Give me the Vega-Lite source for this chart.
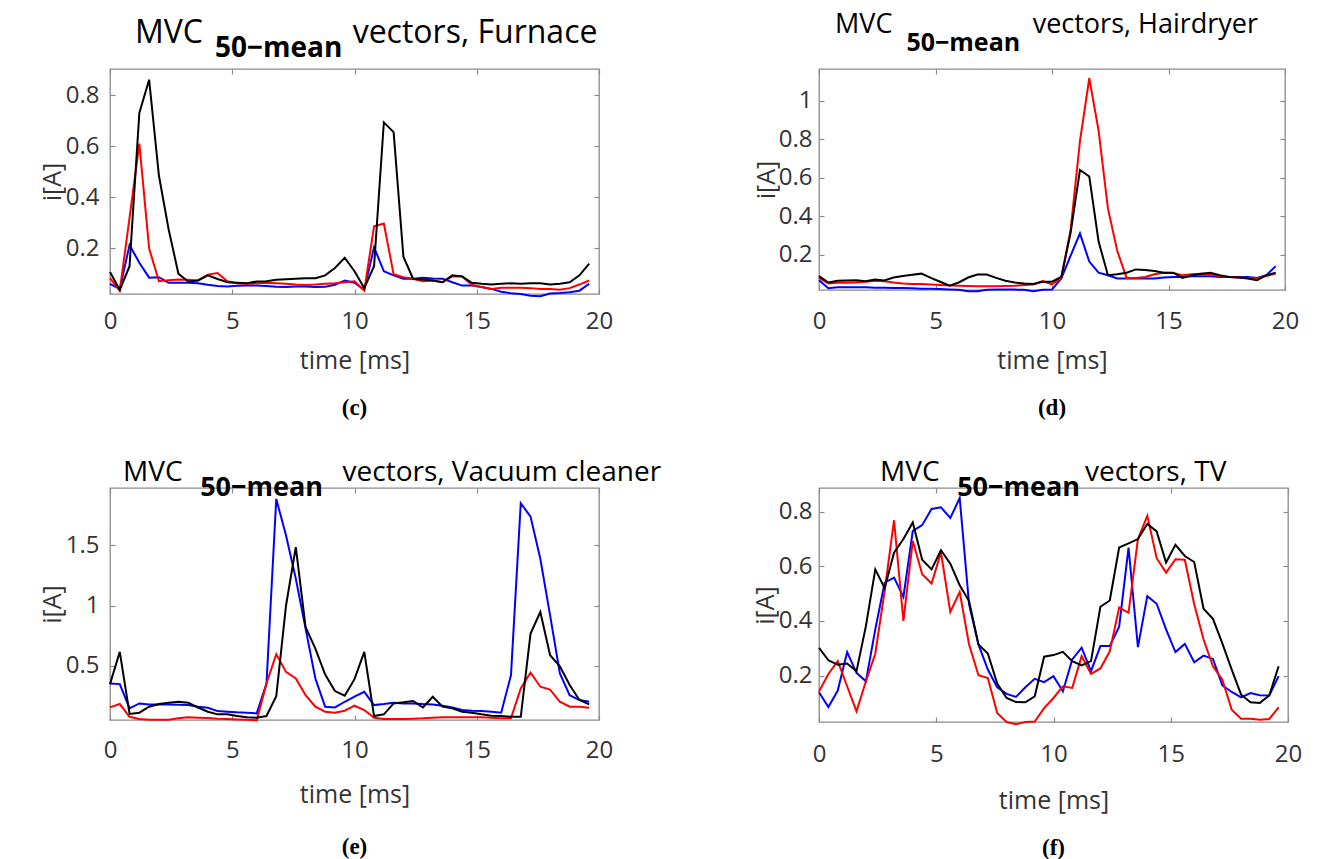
{
  "$schema": "https://vega.github.io/schema/vega-lite/v6.json",
  "background": "white",
  "padding": {"left": 39, "top": 10, "right": 0, "bottom": 0},
  "datasets": {
    "fur": [
      {"t":0,"b":0.061,"r":0.083,"k":0.107},{"t":0.4,"b":0.041,"r":0.034,"k":0.037},{"t":0.8,"b":0.213,"r":0.32,"k":0.13},{"t":1.2,"b":0.143,"r":0.61,"k":0.73},{"t":1.6,"b":0.085,"r":0.2,"k":0.86},
      {"t":2.0,"b":0.087,"r":0.071,"k":0.485},{"t":2.4,"b":0.065,"r":0.075,"k":0.273},{"t":2.8,"b":0.065,"r":0.078,"k":0.1},{"t":3.2,"b":0.065,"r":0.077,"k":0.07},{"t":3.6,"b":0.063,"r":0.074,"k":0.074},
      {"t":4.0,"b":0.057,"r":0.097,"k":0.094},{"t":4.4,"b":0.052,"r":0.103,"k":0.08},{"t":4.8,"b":0.05,"r":0.071,"k":0.067},{"t":5.2,"b":0.053,"r":0.063,"k":0.065},{"t":5.6,"b":0.054,"r":0.061,"k":0.063},
      {"t":6.0,"b":0.054,"r":0.063,"k":0.07},{"t":6.4,"b":0.052,"r":0.065,"k":0.071},{"t":6.8,"b":0.049,"r":0.063,"k":0.077},{"t":7.2,"b":0.048,"r":0.061,"k":0.079},{"t":7.6,"b":0.05,"r":0.058,"k":0.081},
      {"t":8.0,"b":0.05,"r":0.056,"k":0.083},{"t":8.4,"b":0.048,"r":0.058,"k":0.083},{"t":8.8,"b":0.049,"r":0.061,"k":0.094},{"t":9.2,"b":0.057,"r":0.063,"k":0.123},{"t":9.6,"b":0.074,"r":0.067,"k":0.163},
      {"t":10.0,"b":0.065,"r":0.071,"k":0.11},{"t":10.4,"b":0.037,"r":0.034,"k":0.044},{"t":10.8,"b":0.204,"r":0.286,"k":0.13},{"t":11.2,"b":0.11,"r":0.297,"k":0.693},{"t":11.6,"b":0.094,"r":0.098,"k":0.655},
      {"t":12.0,"b":0.081,"r":0.087,"k":0.167},{"t":12.4,"b":0.081,"r":0.081,"k":0.08},{"t":12.8,"b":0.085,"r":0.071,"k":0.078},{"t":13.2,"b":0.082,"r":0.074,"k":0.074},{"t":13.6,"b":0.081,"r":0.067,"k":0.067},
      {"t":14.0,"b":0.067,"r":0.09,"k":0.094},{"t":14.4,"b":0.054,"r":0.09,"k":0.09},{"t":14.8,"b":0.054,"r":0.057,"k":0.065},{"t":15.2,"b":0.048,"r":0.048,"k":0.061},{"t":15.6,"b":0.041,"r":0.041,"k":0.058},
      {"t":16.0,"b":0.03,"r":0.045,"k":0.061},{"t":16.4,"b":0.024,"r":0.045,"k":0.063},{"t":16.8,"b":0.021,"r":0.045,"k":0.061},{"t":17.2,"b":0.014,"r":0.044,"k":0.063},{"t":17.6,"b":0.012,"r":0.041,"k":0.063},
      {"t":18.0,"b":0.023,"r":0.041,"k":0.058},{"t":18.4,"b":0.025,"r":0.038,"k":0.061},{"t":18.8,"b":0.028,"r":0.044,"k":0.067},{"t":19.2,"b":0.034,"r":0.058,"k":0.094},{"t":19.6,"b":0.061,"r":0.074,"k":0.14}
    ],
    "hair": [
      {"t":0,"b":0.067,"r":0.079,"k":0.088},{"t":0.4,"b":0.025,"r":0.05,"k":0.055},{"t":0.8,"b":0.03,"r":0.054,"k":0.064},{"t":1.2,"b":0.03,"r":0.054,"k":0.066},{"t":1.6,"b":0.03,"r":0.055,"k":0.067},
      {"t":2.0,"b":0.03,"r":0.059,"k":0.062},{"t":2.4,"b":0.028,"r":0.064,"k":0.071},{"t":2.8,"b":0.028,"r":0.062,"k":0.066},{"t":3.2,"b":0.027,"r":0.055,"k":0.081},{"t":3.6,"b":0.027,"r":0.05,"k":0.089},
      {"t":4.0,"b":0.025,"r":0.047,"k":0.095},{"t":4.4,"b":0.023,"r":0.047,"k":0.101},{"t":4.8,"b":0.023,"r":0.045,"k":0.079},{"t":5.2,"b":0.021,"r":0.042,"k":0.059},{"t":5.6,"b":0.019,"r":0.04,"k":0.038},
      {"t":6.0,"b":0.017,"r":0.038,"k":0.055},{"t":6.4,"b":0.01,"r":0.037,"k":0.081},{"t":6.8,"b":0.01,"r":0.035,"k":0.096},{"t":7.2,"b":0.017,"r":0.035,"k":0.096},{"t":7.6,"b":0.018,"r":0.035,"k":0.079},
      {"t":8.0,"b":0.018,"r":0.037,"k":0.064},{"t":8.4,"b":0.018,"r":0.038,"k":0.055},{"t":8.8,"b":0.017,"r":0.042,"k":0.05},{"t":9.2,"b":0.01,"r":0.045,"k":0.047},{"t":9.6,"b":0.017,"r":0.062,"k":0.059},
      {"t":10.0,"b":0.018,"r":0.045,"k":0.059},{"t":10.4,"b":0.076,"r":0.079,"k":0.084},{"t":10.8,"b":0.195,"r":0.33,"k":0.314},{"t":11.2,"b":0.31,"r":0.79,"k":0.64},{"t":11.6,"b":0.164,"r":1.117,"k":0.606},
      {"t":12.0,"b":0.106,"r":0.845,"k":0.268},{"t":12.4,"b":0.093,"r":0.44,"k":0.093},{"t":12.8,"b":0.076,"r":0.22,"k":0.098},{"t":13.2,"b":0.076,"r":0.079,"k":0.106},{"t":13.6,"b":0.076,"r":0.079,"k":0.123},
      {"t":14.0,"b":0.076,"r":0.084,"k":0.12},{"t":14.4,"b":0.076,"r":0.098,"k":0.115},{"t":14.8,"b":0.081,"r":0.106,"k":0.106},{"t":15.2,"b":0.084,"r":0.105,"k":0.106},{"t":15.6,"b":0.084,"r":0.093,"k":0.079},
      {"t":16.0,"b":0.088,"r":0.098,"k":0.093},{"t":16.4,"b":0.088,"r":0.101,"k":0.101},{"t":16.8,"b":0.088,"r":0.098,"k":0.106},{"t":17.2,"b":0.084,"r":0.088,"k":0.093},{"t":17.6,"b":0.084,"r":0.084,"k":0.084},
      {"t":18.0,"b":0.084,"r":0.081,"k":0.081},{"t":18.4,"b":0.084,"r":0.079,"k":0.076},{"t":18.8,"b":0.079,"r":0.076,"k":0.067},{"t":19.2,"b":0.093,"r":0.089,"k":0.093},{"t":19.6,"b":0.14,"r":0.101,"k":0.106}
    ],
    "vac": [
      {"t":0,"b":0.35,"r":0.151,"k":0.345},{"t":0.4,"b":0.345,"r":0.179,"k":0.614},{"t":0.8,"b":0.143,"r":0.073,"k":0.096},{"t":1.2,"b":0.184,"r":0.054,"k":0.107},{"t":1.6,"b":0.176,"r":0.048,"k":0.157},
      {"t":2.0,"b":0.176,"r":0.048,"k":0.18},{"t":2.4,"b":0.176,"r":0.048,"k":0.19},{"t":2.8,"b":0.173,"r":0.06,"k":0.198},{"t":3.2,"b":0.17,"r":0.068,"k":0.19},{"t":3.6,"b":0.157,"r":0.065,"k":0.15},
      {"t":4.0,"b":0.148,"r":0.062,"k":0.115},{"t":4.4,"b":0.12,"r":0.057,"k":0.093},{"t":4.8,"b":0.115,"r":0.054,"k":0.093},{"t":5.2,"b":0.11,"r":0.051,"k":0.079},{"t":5.6,"b":0.107,"r":0.048,"k":0.068},
      {"t":6.0,"b":0.101,"r":0.043,"k":0.065},{"t":6.4,"b":0.35,"r":0.35,"k":0.079},{"t":6.8,"b":1.888,"r":0.594,"k":0.245},{"t":7.2,"b":1.583,"r":0.447,"k":1.0},{"t":7.6,"b":1.223,"r":0.392,"k":1.486},
      {"t":8.0,"b":0.807,"r":0.253,"k":0.82},{"t":8.4,"b":0.392,"r":0.157,"k":0.64},{"t":8.8,"b":0.157,"r":0.115,"k":0.425},{"t":9.2,"b":0.151,"r":0.107,"k":0.287},{"t":9.6,"b":0.198,"r":0.123,"k":0.248},
      {"t":10.0,"b":0.24,"r":0.165,"k":0.386},{"t":10.4,"b":0.281,"r":0.129,"k":0.614},{"t":10.8,"b":0.17,"r":0.065,"k":0.079},{"t":11.2,"b":0.179,"r":0.054,"k":0.093},{"t":11.6,"b":0.19,"r":0.054,"k":0.184},
      {"t":12.0,"b":0.184,"r":0.054,"k":0.193},{"t":12.4,"b":0.184,"r":0.057,"k":0.204},{"t":12.8,"b":0.179,"r":0.06,"k":0.15},{"t":13.2,"b":0.176,"r":0.065,"k":0.24},{"t":13.6,"b":0.165,"r":0.068,"k":0.157},
      {"t":14.0,"b":0.151,"r":0.068,"k":0.143},{"t":14.4,"b":0.129,"r":0.068,"k":0.115},{"t":14.8,"b":0.123,"r":0.068,"k":0.107},{"t":15.2,"b":0.12,"r":0.068,"k":0.093},{"t":15.6,"b":0.115,"r":0.065,"k":0.082},
      {"t":16.0,"b":0.107,"r":0.06,"k":0.079},{"t":16.4,"b":0.42,"r":0.06,"k":0.073},{"t":16.8,"b":1.852,"r":0.309,"k":0.073},{"t":17.2,"b":1.741,"r":0.442,"k":0.766},{"t":17.6,"b":1.389,"r":0.323,"k":0.946},
      {"t":18.0,"b":0.918,"r":0.3,"k":0.586},{"t":18.4,"b":0.434,"r":0.198,"k":0.494},{"t":18.8,"b":0.253,"r":0.157,"k":0.337},{"t":19.2,"b":0.212,"r":0.157,"k":0.212},{"t":19.6,"b":0.198,"r":0.148,"k":0.176}
    ],
    "tv": [
      {"t":0,"b":0.139,"r":0.142,"k":0.302},{"t":0.4,"b":0.085,"r":0.206,"k":0.256},{"t":0.8,"b":0.145,"r":0.253,"k":0.24},{"t":1.2,"b":0.286,"r":0.161,"k":0.244},{"t":1.6,"b":0.21,"r":0.069,"k":0.216},
      {"t":2.0,"b":0.179,"r":0.179,"k":0.381},{"t":2.4,"b":0.369,"r":0.28,"k":0.589},{"t":2.8,"b":0.54,"r":0.51,"k":0.52},{"t":3.2,"b":0.559,"r":0.769,"k":0.65},{"t":3.6,"b":0.488,"r":0.4,"k":0.7},
      {"t":4.0,"b":0.73,"r":0.693,"k":0.761},{"t":4.4,"b":0.751,"r":0.571,"k":0.624},{"t":4.8,"b":0.81,"r":0.537,"k":0.589},{"t":5.2,"b":0.816,"r":0.651,"k":0.659},{"t":5.6,"b":0.777,"r":0.433,"k":0.61},
      {"t":6.0,"b":0.85,"r":0.506,"k":0.531},{"t":6.4,"b":0.461,"r":0.314,"k":0.473},{"t":6.8,"b":0.314,"r":0.201,"k":0.314},{"t":7.2,"b":0.222,"r":0.191,"k":0.281},{"t":7.6,"b":0.157,"r":0.063,"k":0.171},
      {"t":8.0,"b":0.133,"r":0.03,"k":0.118},{"t":8.4,"b":0.122,"r":0.022,"k":0.103},{"t":8.8,"b":0.157,"r":0.03,"k":0.102},{"t":9.2,"b":0.188,"r":0.032,"k":0.124},{"t":9.6,"b":0.176,"r":0.081,"k":0.269},
      {"t":10.0,"b":0.198,"r":0.118,"k":0.275},{"t":10.4,"b":0.142,"r":0.161,"k":0.287},{"t":10.8,"b":0.259,"r":0.155,"k":0.253},{"t":11.2,"b":0.302,"r":0.271,"k":0.237},{"t":11.6,"b":0.216,"r":0.206,"k":0.253},
      {"t":12.0,"b":0.308,"r":0.226,"k":0.452},{"t":12.4,"b":0.308,"r":0.289,"k":0.475},{"t":12.8,"b":0.379,"r":0.449,"k":0.669},{"t":13.2,"b":0.669,"r":0.43,"k":0.684},{"t":13.6,"b":0.304,"r":0.7,"k":0.7},
      {"t":14.0,"b":0.491,"r":0.785,"k":0.755},{"t":14.4,"b":0.463,"r":0.63,"k":0.728},{"t":14.8,"b":0.369,"r":0.577,"k":0.614},{"t":15.2,"b":0.286,"r":0.626,"k":0.679},{"t":15.6,"b":0.316,"r":0.624,"k":0.638},
      {"t":16.0,"b":0.249,"r":0.461,"k":0.616},{"t":16.4,"b":0.273,"r":0.332,"k":0.445},{"t":16.8,"b":0.261,"r":0.234,"k":0.408},{"t":17.2,"b":0.164,"r":0.185,"k":0.318},{"t":17.6,"b":0.14,"r":0.075,"k":0.222},
      {"t":18.0,"b":0.12,"r":0.042,"k":0.13},{"t":18.4,"b":0.136,"r":0.042,"k":0.102},{"t":18.8,"b":0.128,"r":0.038,"k":0.1},{"t":19.2,"b":0.127,"r":0.041,"k":0.127},{"t":19.6,"b":0.198,"r":0.084,"k":0.234}
    ]
  },
  "config": {
    "font": "Open Sans",
    "view": {"stroke": "#8a8a8a", "strokeWidth": 1.3},
    "axis": {"domain": false, "grid": false, "tickColor": "#8a8a8a", "tickSize": -5, "tickWidth": 1.2, "labelFont": "Open Sans", "labelFontSize": 24, "labelColor": "#333333", "labelFlush": false, "labelOverlap": false, "titleFont": "Open Sans", "titleFontSize": 25, "titleColor": "#333333", "titleFontWeight": "normal"},
    "axisX": {"labelPadding": 20, "titlePadding": 15},
    "axisY": {"labelPadding": 16, "titlePadding": 0},
    "line": {"strokeWidth": 2, "clip": true},
    "text": {"font": "Liberation Serif", "fontSize": 23, "fontWeight": "bold", "color": "#000000"}
  },
  "bounds": "flush",
  "columns": 2,
  "spacing": {"row": 0, "column": 220},
  "concat": [
    {
      "width": 489, "height": 225,
      "title": {"text": "MVC\u00a0\u00a0\u00a0\u00a0\u00a0\u00a0\u00a0\u00a0\u00a0\u00a0\u00a0\u00a0\u00a0\u00a0\u00a0\u00a0\u00a0\u00a0vectors, Furnace", "subtitle": "\u200b\u00a0\u00a0\u00a0\u00a0\u00a0\u00a0\u00a0\u00a0\u00a0\u00a0\u00a050\u2212mean", "anchor": "start", "frame": "group", "dx": 25, "offset": 4.7, "font": "Open Sans", "fontSize": 32, "fontWeight": "normal", "color": "#000000", "subtitleFont": "Open Sans", "subtitleFontSize": 28, "subtitleFontWeight": "bold", "subtitleColor": "#000000", "subtitlePadding": -15.1},
      "data": {"name": "fur"},
      "transform": [{"fold": ["b", "r", "k"], "as": ["s", "v"]}],
      "layer": [
        {
          "mark": {"type": "line"},
          "encoding": {
            "x": {"field": "t", "type": "quantitative", "scale": {"domain": [0, 20], "nice": false, "zero": false}, "axis": {"values": [0, 5, 10, 15, 20], "title": "time [ms]", "labelPadding": 20, "titlePadding": 15}},
            "y": {"field": "v", "type": "quantitative", "scale": {"domain": [0.021, 0.902], "nice": false, "zero": false}, "axis": {"values": [0.2, 0.4, 0.6, 0.8], "format": "~g", "title": "i[A]"}},
            "color": {"field": "s", "type": "nominal", "scale": {"domain": ["b", "r", "k"], "range": ["#0000ff", "#ff0000", "#000000"]}, "legend": null}
          }
        },
        {
          "mark": {"type": "line", "opacity": 0},
          "encoding": {
            "x": {"field": "t", "type": "quantitative", "axis": {"orient": "top", "values": [0, 5, 10, 15, 20], "labels": false, "title": null}},
            "y": {"field": "v", "type": "quantitative", "axis": {"orient": "right", "values": [0.2, 0.4, 0.6, 0.8], "labels": false, "title": null}},
            "detail": {"field": "s"}
          }
        }
      ],
      "resolve": {"axis": {"x": "independent", "y": "independent"}}
    },
    {
      "width": 466, "height": 221,
      "title": {"text": "MVC\u00a0\u00a0\u00a0\u00a0\u00a0\u00a0\u00a0\u00a0\u00a0\u00a0\u00a0\u00a0\u00a0\u00a0\u00a0\u00a0\u00a0\u00a0\u00a0\u00a0vectors, Hairdryer", "subtitle": "\u200b\u00a0\u00a0\u00a0\u00a0\u00a0\u00a0\u00a0\u00a0\u00a0\u00a0\u00a050\u2212mean", "anchor": "start", "frame": "group", "dx": 16, "offset": 11.4, "font": "Open Sans", "fontSize": 27, "fontWeight": "normal", "color": "#000000", "subtitleFont": "Open Sans", "subtitleFontSize": 25, "subtitleFontWeight": "bold", "subtitleColor": "#000000", "subtitlePadding": -8.4},
      "data": {"name": "hair"},
      "transform": [{"fold": ["b", "r", "k"], "as": ["s", "v"]}],
      "layer": [
        {
          "mark": {"type": "line"},
          "encoding": {
            "x": {"field": "t", "type": "quantitative", "scale": {"domain": [0, 20], "nice": false, "zero": false}, "axis": {"values": [0, 5, 10, 15, 20], "title": "time [ms]", "labelPadding": 24, "titlePadding": 15}},
            "y": {"field": "v", "type": "quantitative", "scale": {"domain": [0.016, 1.165], "nice": false, "zero": false}, "axis": {"values": [0.2, 0.4, 0.6, 0.8, 1], "format": "~g", "title": "i[A]", "labelPadding": 12, "titlePadding": -1}},
            "color": {"field": "s", "type": "nominal", "scale": {"domain": ["b", "r", "k"], "range": ["#0000ff", "#ff0000", "#000000"]}, "legend": null}
          }
        },
        {
          "mark": {"type": "line", "opacity": 0},
          "encoding": {
            "x": {"field": "t", "type": "quantitative", "axis": {"orient": "top", "values": [0, 5, 10, 15, 20], "labels": false, "title": null}},
            "y": {"field": "v", "type": "quantitative", "axis": {"orient": "right", "values": [0.2, 0.4, 0.6, 0.8, 1], "labels": false, "title": null}},
            "detail": {"field": "s"}
          }
        }
      ],
      "resolve": {"axis": {"x": "independent", "y": "independent"}}
    },
    {
      "width": 489, "height": 194,
      "view": {"stroke": null},
      "data": {"values": [{"c": "(c)"}]},
      "mark": {"type": "text", "dy": 17},
      "encoding": {"text": {"field": "c", "type": "nominal"}}
    },
    {
      "width": 466, "height": 194,
      "view": {"stroke": null},
      "data": {"values": [{"c": "(d)"}]},
      "mark": {"type": "text", "dy": 17},
      "encoding": {"text": {"field": "c", "type": "nominal"}}
    },
    {
      "width": 489, "height": 232,
      "title": {"text": "MVC\u00a0\u00a0\u00a0\u00a0\u00a0\u00a0\u00a0\u00a0\u00a0\u00a0\u00a0\u00a0\u00a0\u00a0\u00a0\u00a0\u00a0\u00a0\u00a0\u00a0\u00a0\u00a0vectors, Vacuum cleaner", "subtitle": "\u200b\u00a0\u00a0\u00a0\u00a0\u00a0\u00a0\u00a0\u00a0\u00a0\u00a0\u00a050\u2212mean", "anchor": "start", "frame": "group", "dx": 13, "offset": -13.7, "font": "Open Sans", "fontSize": 28, "fontWeight": "normal", "color": "#000000", "subtitleFont": "Open Sans", "subtitleFontSize": 27, "subtitleFontWeight": "bold", "subtitleColor": "#000000", "subtitlePadding": -12.2},
      "data": {"name": "vac"},
      "transform": [{"fold": ["b", "r", "k"], "as": ["s", "v"]}],
      "layer": [
        {
          "mark": {"type": "line"},
          "encoding": {
            "x": {"field": "t", "type": "quantitative", "scale": {"domain": [0, 20], "nice": false, "zero": false}, "axis": {"values": [0, 5, 10, 15, 20], "title": "time [ms]", "labelPadding": 23, "titlePadding": 20}},
            "y": {"field": "v", "type": "quantitative", "scale": {"domain": [0.046, 1.979], "nice": false, "zero": false}, "axis": {"values": [0.5, 1, 1.5], "format": "~g", "title": "i[A]"}},
            "color": {"field": "s", "type": "nominal", "scale": {"domain": ["b", "r", "k"], "range": ["#0000ff", "#ff0000", "#000000"]}, "legend": null}
          }
        },
        {
          "mark": {"type": "line", "opacity": 0},
          "encoding": {
            "x": {"field": "t", "type": "quantitative", "axis": {"orient": "top", "values": [0, 5, 10, 15, 20], "labels": false, "title": null}},
            "y": {"field": "v", "type": "quantitative", "axis": {"orient": "right", "values": [0.5, 1, 1.5], "labels": false, "title": null}},
            "detail": {"field": "s"}
          }
        }
      ],
      "resolve": {"axis": {"x": "independent", "y": "independent"}}
    },
    {
      "width": 469, "height": 234,
      "title": {"text": "MVC\u00a0\u00a0\u00a0\u00a0\u00a0\u00a0\u00a0\u00a0\u00a0\u00a0\u00a0\u00a0\u00a0\u00a0\u00a0\u00a0\u00a0\u00a0\u00a0\u00a0vectors, TV", "subtitle": "\u200b\u00a0\u00a0\u00a0\u00a0\u00a0\u00a0\u00a0\u00a0\u00a0\u00a0\u00a050\u2212mean", "anchor": "start", "frame": "group", "dx": 61, "offset": -13.7, "font": "Open Sans", "fontSize": 28, "fontWeight": "normal", "color": "#000000", "subtitleFont": "Open Sans", "subtitleFontSize": 27, "subtitleFontWeight": "bold", "subtitleColor": "#000000", "subtitlePadding": -12.2},
      "data": {"name": "tv"},
      "transform": [{"fold": ["b", "r", "k"], "as": ["s", "v"]}],
      "layer": [
        {
          "mark": {"type": "line"},
          "encoding": {
            "x": {"field": "t", "type": "quantitative", "scale": {"domain": [0, 20], "nice": false, "zero": false}, "axis": {"values": [0, 5, 10, 15, 20], "title": "time [ms]", "labelPadding": 25, "titlePadding": 22}},
            "y": {"field": "v", "type": "quantitative", "scale": {"domain": [0.03, 0.887], "nice": false, "zero": false}, "axis": {"values": [0.2, 0.4, 0.6, 0.8], "format": "~g", "title": "i[A]", "labelPadding": 12, "titlePadding": 0}},
            "color": {"field": "s", "type": "nominal", "scale": {"domain": ["b", "r", "k"], "range": ["#0000ff", "#ff0000", "#000000"]}, "legend": null}
          }
        },
        {
          "mark": {"type": "line", "opacity": 0},
          "encoding": {
            "x": {"field": "t", "type": "quantitative", "axis": {"orient": "top", "values": [0, 5, 10, 15, 20], "labels": false, "title": null}},
            "y": {"field": "v", "type": "quantitative", "axis": {"orient": "right", "values": [0.2, 0.4, 0.6, 0.8], "labels": false, "title": null}},
            "detail": {"field": "s"}
          }
        }
      ],
      "resolve": {"axis": {"x": "independent", "y": "independent"}}
    },
    {
      "width": 489, "height": 139,
      "view": {"stroke": null},
      "data": {"values": [{"c": "(e)"}]},
      "mark": {"type": "text", "dy": 55},
      "encoding": {"text": {"field": "c", "type": "nominal"}}
    },
    {
      "width": 469, "height": 139,
      "view": {"stroke": null},
      "data": {"values": [{"c": "(f)"}]},
      "mark": {"type": "text", "dy": 56},
      "encoding": {"text": {"field": "c", "type": "nominal"}}
    }
  ]
}
